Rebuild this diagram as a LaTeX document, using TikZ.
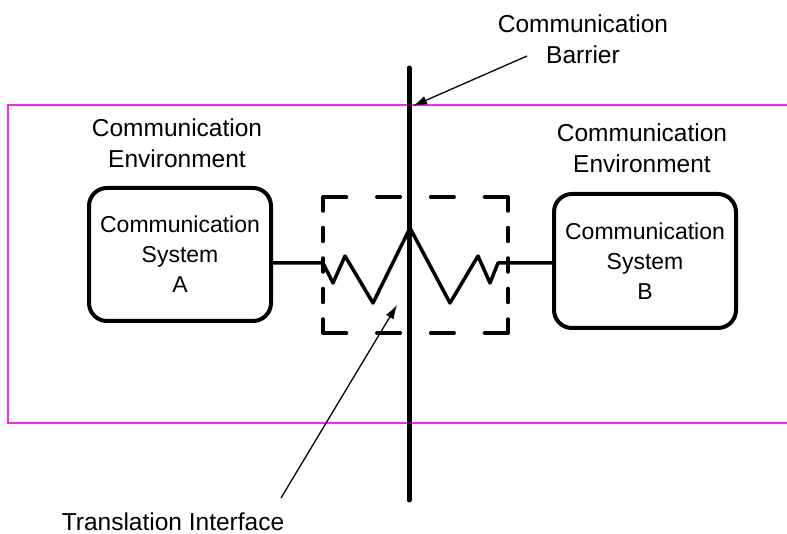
\documentclass[tikz,border=0pt]{standalone}
\usepackage{fontspec}
\setmainfont{Liberation Sans}
\usetikzlibrary{arrows.meta}
\definecolor{framepink}{RGB}{255,30,255}
\begin{document}
\begin{tikzpicture}[x=1pt,y=-1pt,
  sysbox/.style={draw,line width=4pt,rounded corners=18pt,minimum width=182pt,
    minimum height=133pt,inner sep=0pt,align=center,
    font=\fontsize{23}{30}\selectfont},
  lbl/.style={align=center,inner sep=0pt,font=\fontsize{24.5}{31}\selectfont},
  pointer/.style={line width=1.3pt,-{Latex[length=14pt,width=9pt]}},
  dashH/.style={line width=3.5pt,line cap=round,dash pattern=on 23.5pt off 30.33pt},
  dashV/.style={line width=3.5pt,line cap=round,dash pattern=on 14pt off 16.5pt},
  wire/.style={line width=3.5pt,line join=round},
  envframe/.style={draw=framepink,line width=1.3pt}
]
\useasboundingbox (0,0) rectangle (787,534);

% environment frame (open to the right)
\coordinate (fTR) at (787,105);
\coordinate (fTL) at (8,105);
\coordinate (fBL) at (8,423);
\coordinate (fBR) at (787,423);
\draw[envframe] (fTR) -- (fTL) -- (fBL) -- (fBR);

% translation interface: dashed frame
\coordinate (d1) at (323,197);
\coordinate (d2) at (508,197);
\coordinate (d3) at (508,333);
\coordinate (d4) at (323,333);
\draw[dashH] (d1) -- (d2);
\draw[dashH] (d4) -- (d3);
\draw[dashV] (d1) -- (d4);
\draw[dashV] (d2) -- (d3);

% communication systems
\node[sysbox] (sysA) at (180,254.5) {Communication\\System\\A};
\node[sysbox,minimum height=134pt] (sysB) at (645,261) {Communication\\System\\B};

% zigzag link through the interface
\coordinate (z0) at (323,263);
\coordinate (z1) at (333,283);
\coordinate (z2) at (345,256);
\coordinate (z3) at (373,303);
\coordinate (z4) at (410,228);
\coordinate (z5) at (450,303);
\coordinate (z6) at (478,256);
\coordinate (z7) at (490,283);
\coordinate (z8) at (498,263);
\draw[wire] (sysA.east |- z0) -- (z0) -- (z1) -- (z2) -- (z3) -- (z4)
  -- (z5) -- (z6) -- (z7) -- (z8) -- (sysB.west |- z8);

% the barrier
\coordinate (bTop) at (409,68);
\coordinate (bBot) at (409,500);
\draw[line width=5pt,line cap=round] (bTop) -- (bBot);

% labels
\node[lbl] (envA) at (177,143.5) {Communication\\Environment};
\node[lbl] (envB) at (642,148) {Communication\\Environment};
\node[lbl] (barrierLbl) at (583,39) {Communication\\Barrier};
\node[lbl,anchor=base] (transLbl) at (173,530) {Translation Interface};

% pointers
\coordinate (barTail) at (527,56);
\coordinate (barTip) at (413,106);
\draw[pointer] (barTail) -- (barTip);
\coordinate (trTail) at (281,498);
\coordinate (trTip) at (397,305);
\draw[pointer] (trTail) -- (trTip);
\end{tikzpicture}
\end{document}
